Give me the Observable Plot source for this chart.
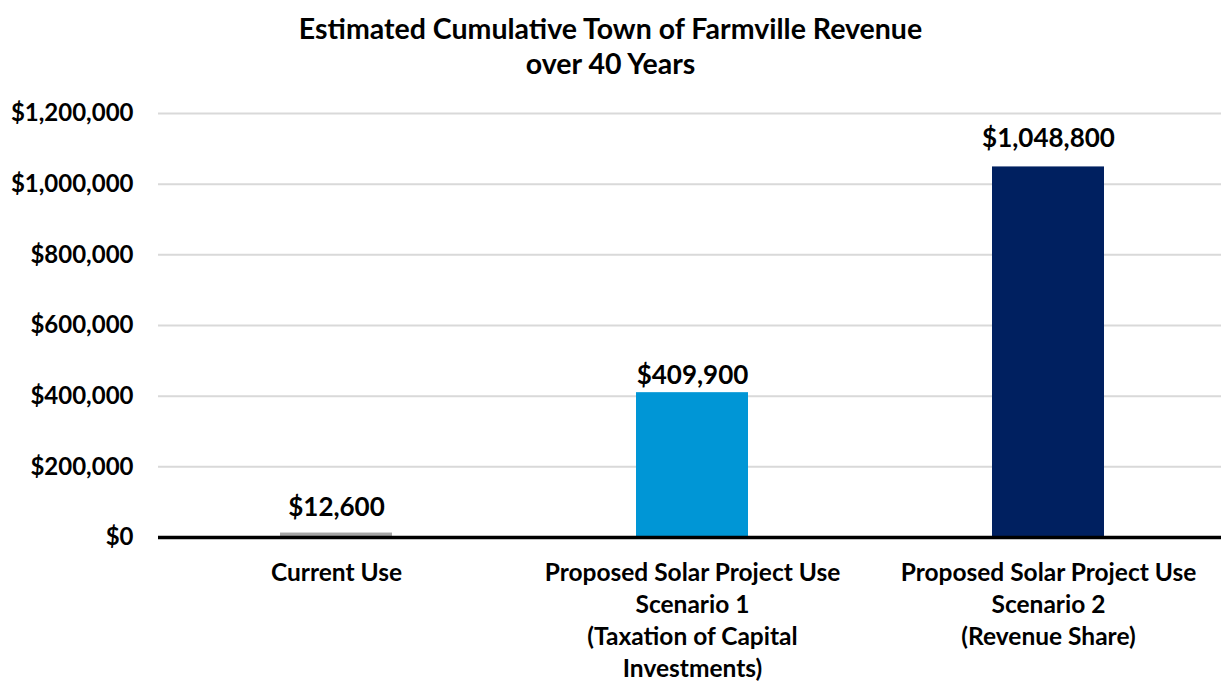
<!DOCTYPE html>
<html>
<head>
<meta charset="utf-8">
<script src="https://cdn.jsdelivr.net/npm/d3@7"></script>
<script src="https://cdn.jsdelivr.net/npm/@observablehq/plot@0.6"></script>
<style>
  html, body { margin: 0; padding: 0; background: #fff; }
  body { width: 1221px; height: 681px; overflow: hidden; font-family: Lato, "Open Sans", sans-serif; }
  #title {
    box-sizing: border-box; height: 95px; padding-top: 11px;
    text-align: center; font-weight: 700; font-size: 28.5px; line-height: 35px; color: #000;
  }
  #chart svg { display: block; }
</style>
</head>
<body>
<div id="title">Estimated Cumulative Town of Farmville Revenue<br>over 40 Years</div>
<div id="chart"></div>
<script>
// Scenario names (line breaks as shown under each bar)
const categories = [
  "Current Use",
  "Proposed Solar Project Use\nScenario 1\n(Taxation of Capital\nInvestments)",
  "Proposed Solar Project Use\nScenario 2\n(Revenue Share)"
];
// Cumulative revenue over 40 years, in dollars
const revenue = [12600, 409900, 1048800];
const barColors = ["#A6A6A6", "#0096D6", "#002060"];
const yTicks = [0, 200000, 400000, 600000, 800000, 1000000, 1200000];

const data = categories.map((c, i) => ({category: c, value: revenue[i], color: barColors[i]}));
const dollars = d3.format("$,.0f");

// Each value label sits a little above its bar; the lift differs per bar
const valueLabel = (d, lift) => Plot.text([d], {
  x: "category", y: "value", text: v => dollars(v.value),
  dy: -lift, lineAnchor: "middle", fontSize: 26, fontWeight: 700, fill: "#000"
});

const chart = Plot.plot({
  width: 1221,
  height: 586,
  marginTop: 18,
  marginBottom: 144,
  marginLeft: 158,
  marginRight: 0,
  style: {fontFamily: "Lato, 'Open Sans', sans-serif", fontWeight: 700, color: "#000", background: "#fff"},
  x: {domain: categories, range: [158, 1226], paddingInner: 0.685, paddingOuter: 0.3425},
  y: {domain: [0, 1200000]},
  marks: [
    Plot.gridY(yTicks, {stroke: "#D9D9D9", strokeOpacity: 1, strokeWidth: 2}),
    Plot.barY(data, {x: "category", y: "value", fill: "color"}),
    Plot.ruleY([0], {stroke: "#000", strokeWidth: 3.5}),
    valueLabel(data[0], 25),
    valueLabel(data[1], 17),
    valueLabel(data[2], 28.5),
    Plot.axisY(yTicks, {
      tickSize: 0, tickPadding: 25, tickFormat: dollars, fontSize: 24, fontWeight: 700, label: null
    }),
    Plot.axisX({
      tickSize: 0, tickPadding: 21, fontSize: 24.5, fontWeight: 700, lineHeight: 1.3, label: null
    })
  ]
});
document.getElementById("chart").appendChild(chart);
</script>
</body>
</html>
